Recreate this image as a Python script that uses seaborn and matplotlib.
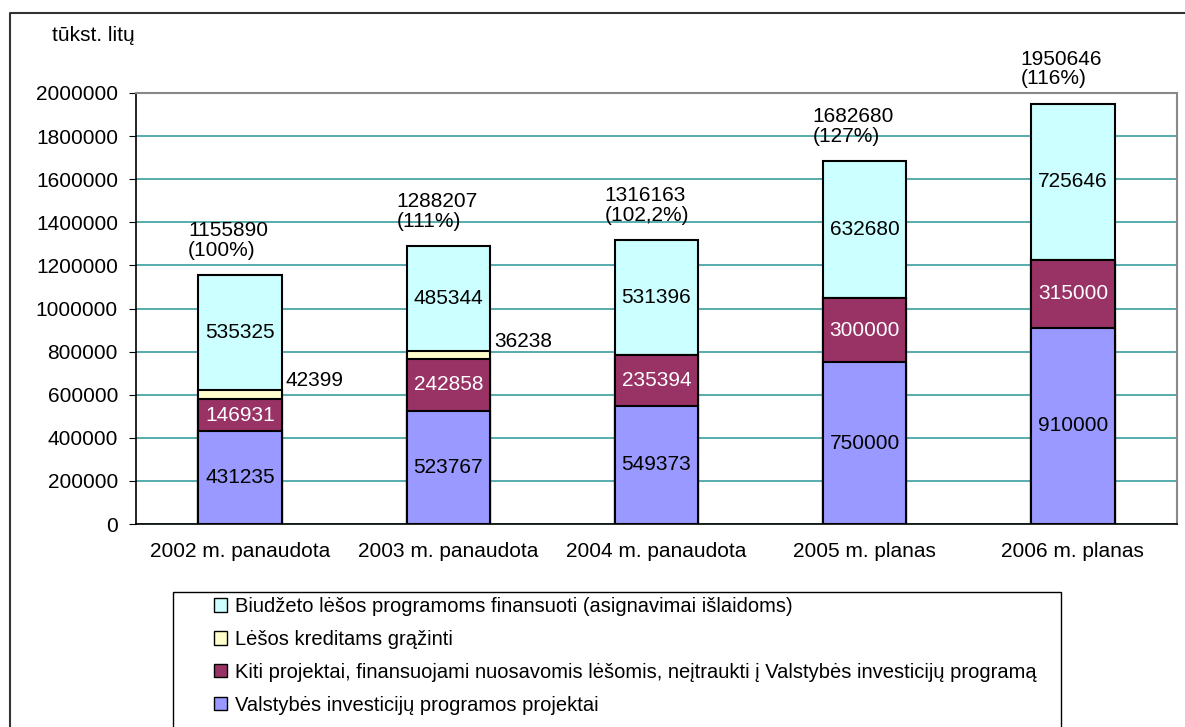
import matplotlib
matplotlib.use("Agg")
import matplotlib.pyplot as plt
import seaborn as sns
from matplotlib.patches import Patch, Rectangle
from matplotlib.lines import Line2D

# data (tūkst. litų)
categories = ["2002 m. panaudota", "2003 m. panaudota", "2004 m. panaudota",
              "2005 m. planas", "2006 m. planas"]
valstybes = [431235, 523767, 549373, 750000, 910000]
kiti = [146931, 242858, 235394, 300000, 315000]
kreditams = [42399, 36238, 0, 0, 0]
biudzeto = [535325, 485344, 531396, 632680, 725646]
totals = [1155890, 1288207, 1316163, 1682680, 1950646]
percents = ["(100%)", "(111%)", "(102,2%)", "(127%)", "(116%)"]

series_names = [
    "Biudžeto lėšos programoms finansuoti (asignavimai išlaidoms)",
    "Lėšos kreditams grąžinti",
    "Kiti projektai, finansuojami nuosavomis lėšomis, neįtraukti į Valstybės investicijų programą",
    "Valstybės investicijų programos projektai",
]
colors = {"biud": "#CCFFFF", "kred": "#FFFFCC", "kiti": "#993366", "vals": "#9999FF"}

sns.set_style("white")
plt.rcParams['font.family'] = ['Liberation Sans', 'DejaVu Sans']
plt.rcParams['text.color'] = 'black'
plt.rcParams['xtick.color'] = 'black'
plt.rcParams['ytick.color'] = 'black'
plt.rcParams['xtick.labelcolor'] = 'black'
plt.rcParams['ytick.labelcolor'] = 'black'
FS = 15

W, H = 1185, 727
fig = plt.figure(figsize=(W / 100, H / 100), dpi=100)

def fx(px):
    return px / W

def fy(py):
    return 1 - py / H

ax = fig.add_axes([fx(136), fy(524), fx(1177) - fx(136), fy(93) - fy(524)])

# stacked bars: draw cumulative heights from the top layer down
cum1 = valstybes
cum2 = [a + b for a, b in zip(cum1, kiti)]
cum3 = [a + b for a, b in zip(cum2, kreditams)]
cum4 = [a + b for a, b in zip(cum3, biudzeto)]
for cum, col in [(cum4, colors["biud"]), (cum3, colors["kred"]),
                 (cum2, colors["kiti"]), (cum1, colors["vals"])]:
    sns.barplot(x=categories, y=cum, color=col, saturation=1, width=0.4,
                edgecolor="black", linewidth=1.5, ax=ax, zorder=3)

ax.set_xlim(-0.5, len(categories) - 0.5)
ax.set_ylim(0, 2000000)
ax.set_yticks(range(0, 2000001, 200000))
ax.set_yticklabels([str(v) for v in range(0, 2000001, 200000)], fontsize=FS)
ax.set_xticks(range(len(categories)))
ax.set_xticklabels(categories, fontsize=FS)
ax.set_xticks([i + 0.5 for i in range(-1, len(categories))], minor=True)
ax.tick_params(axis="x", which="major", length=0, pad=13)
ax.tick_params(axis="x", which="minor", length=5, direction="out", color="black")
ax.tick_params(axis="y", length=5, direction="out", pad=8, left=True, color="black")
ax.set_xlabel("")
ax.set_ylabel("")
ax.set_axisbelow(True)
ax.yaxis.grid(True, color="#3A9E9E", linewidth=1.2)
ax.xaxis.grid(False)
for side in ["left", "bottom"]:
    ax.spines[side].set_color("black")
    ax.spines[side].set_linewidth(1.2)
for side in ["top", "right"]:
    ax.spines[side].set_color("#888888")
    ax.spines[side].set_linewidth(1.5)

# segment labels
for i in range(len(categories)):
    ax.text(i, valstybes[i] / 2, str(valstybes[i]), ha="center", va="center",
            fontsize=FS, color="black", zorder=5)
    ax.text(i, cum1[i] + kiti[i] / 2, str(kiti[i]), ha="center", va="center",
            fontsize=FS, color="white", zorder=5)
    ax.text(i, cum3[i] + biudzeto[i] / 2, str(biudzeto[i]), ha="center", va="center",
            fontsize=FS, color="black", zorder=5)
    if kreditams[i] > 0:
        ax.annotate(str(kreditams[i]), xy=(i + 0.2, cum3[i]), xytext=(3, 7),
                    textcoords="offset points", ha="left", va="center",
                    fontsize=FS, zorder=5)
    ax.annotate(f"{totals[i]}\n{percents[i]}", xy=(i - 0.25, cum4[i]), xytext=(0, 11),
                textcoords="offset points", ha="left", va="bottom",
                fontsize=FS, linespacing=1.05, zorder=5)

fig.text(fx(52), fy(41), "tūkst. litų", fontsize=FS, ha="left", va="baseline")

# outer chart frame
fig.add_artist(Line2D([fx(10), fx(10), 1.01], [-0.01, fy(13), fy(13)],
                      transform=fig.transFigure, color="#333333", linewidth=1.5))

# legend
handles = [Patch(facecolor=colors[k], edgecolor="black", linewidth=1)
           for k in ["biud", "kred", "kiti", "vals"]]
fig.add_artist(Rectangle((fx(173), fy(728)), fx(1061) - fx(173), fy(592) - fy(728),
                         transform=fig.transFigure, fill=False,
                         edgecolor="black", linewidth=1))
fig.legend(handles, series_names, loc="upper left",
           bbox_to_anchor=(fx(214), fy(597)), frameon=False, fontsize=14.5,
           borderpad=0, borderaxespad=0, handlelength=0.65, handleheight=0.65,
           handletextpad=0.4, labelspacing=0.69)

fig.savefig("out.png", dpi=100)
